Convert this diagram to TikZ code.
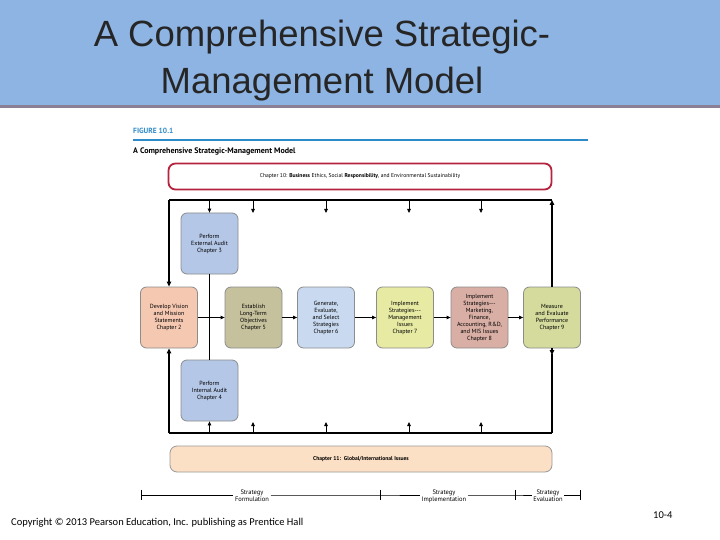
\documentclass[tikz,border=0pt]{standalone}
\usepackage{fontspec}
\setmainfont{Liberation Sans}
\newfontfamily\fig{PT Sans}
\newfontfamily\carl{Carlito}
\usetikzlibrary{arrows.meta}
\definecolor{hdr}{HTML}{8EB4E3}
\definecolor{hline}{HTML}{8A7F95}
\definecolor{figblue}{HTML}{2E8BC9}
\definecolor{redb}{HTML}{B5233F}
\begin{document}
\begin{tikzpicture}[x=1pt,y=-1pt,
 box/.style={draw=black!45,line width=0.8pt,rounded corners=6pt,minimum width=57pt,minimum height=61pt,inner sep=0pt,align=center,font=\fig\fontsize{6}{7}\selectfont},
 ln/.style={line width=1.3pt},
 arr/.style={line width=1.1pt,-{Triangle[length=5pt,width=4.5pt]}},
 sar/.style={line width=0.8pt,-{Triangle[length=4pt,width=3.5pt]}}]
\useasboundingbox (0,0) rectangle (720,540);
\fill[white] (0,0) rectangle (720,540);
\fill[hdr] (0,0) rectangle (720,106);
\fill[hline] (0,105) rectangle (720,108);
\node[font=\fontsize{36.5}{47}\selectfont,text=black!85,align=center] (title) at (322,61) {A Comprehensive Strategic-\\Management Model};
% figure header
\node[anchor=west,font=\fig\bfseries\fontsize{7.5}{8}\selectfont,text=figblue,inner sep=0] (fign) at (133,131) {FIGURE 10.1};
\draw[figblue,line width=1.5pt] (133,140) -- (588,140);
\node[anchor=west,font=\fig\bfseries\fontsize{8}{9}\selectfont,inner sep=0] (figt) at (133,151) {A Comprehensive Strategic-Management Model};
\node[draw=redb,line width=1.8pt,rounded corners=7pt,minimum width=383pt,minimum height=26pt,font=\fig\fontsize{5.6}{6}\selectfont] (ethics) at (360,176.5) {Chapter 10: \textbf{Business} Ethics, Social \textbf{Responsibility}, and Environmental Sustainability};
\node[draw=black!40,fill={rgb,255:red,252;green,224;blue,197},line width=0.8pt,rounded corners=7pt,minimum width=382pt,minimum height=26pt,font=\fig\fontsize{5.6}{6}\selectfont] (glob) at (361,459) {\textbf{Chapter 11:\enspace Global/International Issues}};
% boxes
\node[box,fill={rgb,255:red,180;green,199;blue,231}] (ext) at (209.5,243.5) {Perform\\External Audit\\Chapter 3};
\node[box,fill={rgb,255:red,180;green,199;blue,231}] (int) at (209.5,390.5) {Perform\\Internal Audit\\Chapter 4};
\node[box,fill={rgb,255:red,245;green,200;blue,178}] (dev) at (169,317.5) {Develop Vision\\and Mission\\Statements\\Chapter 2};
\node[box,fill={rgb,255:red,197;green,193;blue,156}] (est) at (253.5,317.5) {Establish\\Long-Term\\Objectives\\Chapter 5};
\node[box,fill={rgb,255:red,201;green,218;blue,240}] (gen) at (326,317.5) {Generate,\\Evaluate,\\and Select\\Strategies\\Chapter 6};
\node[box,fill={rgb,255:red,230;green,234;blue,162}] (imm) at (405,317.5) {Implement\\Strategies---\\Management\\Issues\\Chapter 7};
\node[box,fill={rgb,255:red,217;green,175;blue,165}] (imk) at (479.5,317.5) {Implement\\Strategies---\\Marketing,\\Finance,\\Accounting, R\&D,\\and MIS Issues\\Chapter 8};
\node[box,fill={rgb,255:red,212;green,219;blue,156}] (mea) at (552,317.5) {Measure\\and Evaluate\\Performance\\Chapter 9};
% loop lines
\coordinate (tl) at (169,200); \coordinate (tr) at (552,200);
\coordinate (bl) at (169,433); \coordinate (br) at (552,433);
\draw[ln] (tl) -- (tr);
\draw[ln] (bl) -- (br);
\draw[arr] (tl) -- (dev.north);
\draw[arr] (bl) -- (dev.south);
\draw[arr] (mea.north) -- (tr);
\draw[arr] (mea.south) -- (552,355);
\draw[ln] (552,354) -- (br);
\draw[sar] (209.5,200) -- (ext.north);
\draw[sar] (209.5,433) -- (int.south);
\foreach \x/\n in {253/a,326/b,409/c,481/d}{
 \coordinate (t\n) at (\x,200); \coordinate (u\n) at (\x,213);
 \coordinate (b\n) at (\x,433); \coordinate (v\n) at (\x,422);
 \draw[sar] (t\n) -- (u\n); \draw[sar] (b\n) -- (v\n);}
\draw[line width=0.9pt] (ext.south) -- (int.north);
\draw[sar] (dev) -- (est);
\draw[sar] (est) -- (gen);
\draw[sar] (gen) -- (imm);
\draw[sar] (imm) -- (imk);
\draw[sar] (imk) -- (mea);
% timeline
\begin{scope}[font=\fig\fontsize{6.5}{7}\selectfont]
\node[align=center,inner sep=1.5pt] (sf) at (252,496) {Strategy\\Formulation};
\node[align=center,inner sep=1.5pt] (si) at (444,496) {Strategy\\Implementation};
\node[align=center,inner sep=1.5pt] (se) at (548,496) {Strategy\\Evaluation};
\end{scope}
\coordinate (k1) at (141,495); \coordinate (k2) at (380,495);
\coordinate (k3) at (515,495); \coordinate (k4) at (580,495);
\foreach \k in {k1,k2,k3,k4}{\draw[line width=0.8pt] ([yshift=-5pt]\k) -- ([yshift=5pt]\k);}
\draw[line width=0.5pt] (k1) -- (sf.west|-k1) (sf.east|-k1) -- (k2) -- (si.west|-k2) (si.east|-k2) -- (k3) -- (se.west|-k3) (se.east|-k3) -- (k4);
% footer
\node[anchor=west,font=\carl\fontsize{10.5}{12}\selectfont,inner sep=0] (copy) at (11,523) {Copyright © 2013 Pearson Education, Inc. publishing as Prentice Hall};
\node[anchor=west,font=\carl\fontsize{10.5}{12}\selectfont,inner sep=0] (pg) at (653,515) {10-4};
\end{tikzpicture}
\end{document}
